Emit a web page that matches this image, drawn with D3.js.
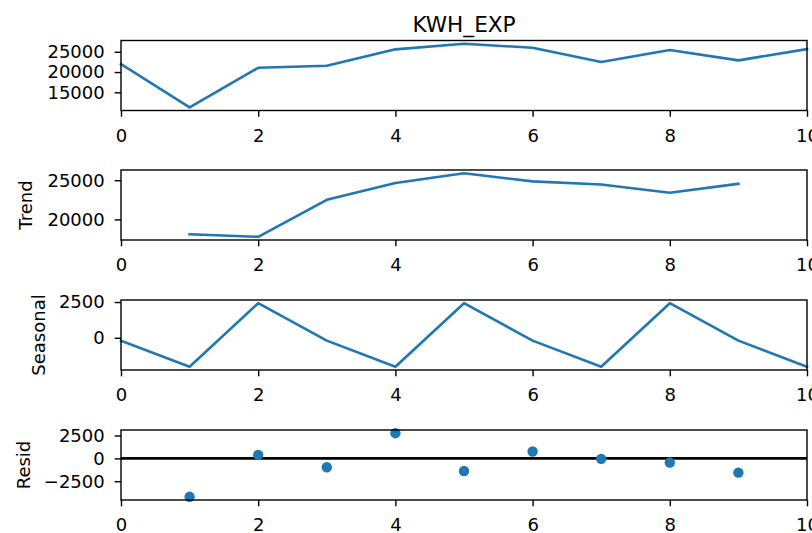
<!DOCTYPE html>
<html>
<head>
<meta charset="utf-8">
<script src="https://cdn.jsdelivr.net/npm/d3@7"></script>
<style>
  body { margin: 0; background: #ffffff; }
  svg { display: block; }
  text { font-family: "DejaVu Sans", sans-serif; }
</style>
</head>
<body>
<svg id="chart" width="812" height="533"></svg>
<script>
// ---- data ----
const xIndex   = [0, 1, 2, 3, 4, 5, 6, 7, 8, 9, 10];
const observed = [21970, 11300, 21060, 21550, 25600, 27000, 25985, 22460, 25420, 22880, 25660];
const trend    = [null, 18100, 17780, 22500, 24650, 25900, 24850, 24450, 23400, 24550, null];
const seasonal = [-200, -2030, 2420, -200, -2030, 2420, -200, -2030, 2420, -200, -2030];
const resid    = [null, -4200, 385, -970, 2750, -1380, 750, -55, -460, -1560, null];

const xTickValues = [0, 2, 4, 6, 8, 10];
const xTickLabels = ["0", "2", "4", "6", "8", "10"];
const obsTicks    = [15000, 20000, 25000];
const obsLabels   = ["15000", "20000", "25000"];
const trendTicks  = [20000, 25000];
const trendLabels = ["20000", "25000"];
const seasTicks   = [0, 2500];
const seasLabels  = ["0", "2500"];
const residTicks  = [-2500, 0, 2500];
const residLabels = ["\u22122500", "0", "2500"];

const chartTitle = "KWH_EXP";
const panelNames = ["", "Trend", "Seasonal", "Resid"];

// ---- layout ----
const svg = d3.select("#chart");
const W = 812, H = 533;
svg.append("rect").attr("width", W).attr("height", H).attr("fill", "#ffffff");

const left = 121, right = 807;
const tops = [40.5, 170, 300, 430];
const panelH = 70;
const ylabelX = [null, 32, 45, 30];
const blue = "#1f77b4";

const x = d3.scaleLinear().domain([0, 10]).range([left, right]);

const panels = [
  { values: observed, ticks: obsTicks, labels: obsLabels, type: "line" },
  { values: trend, ticks: trendTicks, labels: trendLabels, type: "line" },
  { values: seasonal, ticks: seasTicks, labels: seasLabels, type: "line" },
  { values: resid, ticks: residTicks, labels: residLabels, type: "dots" }
];

panels.forEach((p, i) => {
  const top = tops[i], bottom = top + panelH;
  const vals = p.values.filter(v => v != null);
  const mn = d3.min(vals), mx = d3.max(vals);
  const pad = (mx - mn) * 0.05;
  const y = d3.scaleLinear().domain([mn - pad, mx + pad]).range([bottom, top]);
  const g = svg.append("g");

  if (p.type === "line") {
    const line = d3.line()
      .defined(d => d.v != null)
      .x(d => x(d.x))
      .y(d => y(d.v));
    g.append("path")
      .datum(xIndex.map((xx, k) => ({ x: xx, v: p.values[k] })))
      .attr("d", line)
      .attr("fill", "none")
      .attr("stroke", blue)
      .attr("stroke-width", 2.6)
      .attr("stroke-linejoin", "round")
      .attr("stroke-linecap", "square");
  } else {
    g.append("line")
      .attr("x1", x(0)).attr("x2", x(10))
      .attr("y1", y(0)).attr("y2", y(0))
      .attr("stroke", "#000000")
      .attr("stroke-width", 2.7);
    g.selectAll("circle")
      .data(xIndex.map((xx, k) => ({ x: xx, v: p.values[k] })).filter(d => d.v != null))
      .enter().append("circle")
      .attr("cx", d => x(d.x))
      .attr("cy", d => y(d.v))
      .attr("r", 5.2)
      .attr("fill", blue);
  }

  // axes
  const xa = d3.axisBottom(x).tickValues(xTickValues)
    .tickFormat((d, k) => xTickLabels[k]).tickSize(6.3).tickPadding(12);
  const xg = svg.append("g").attr("transform", `translate(0,${bottom})`).call(xa);
  const ya = d3.axisLeft(y).tickValues(p.ticks)
    .tickFormat((d, k) => p.labels[k]).tickSize(6.3).tickPadding(10);
  const yg = svg.append("g").attr("transform", `translate(${left},0)`).call(ya);
  [xg, yg].forEach(a => {
    a.select(".domain").remove();
    a.selectAll(".tick line").attr("stroke", "#000").attr("stroke-width", 1.4);
    a.selectAll(".tick text").attr("fill", "#000")
      .attr("font-size", 18).attr("font-family", "DejaVu Sans, sans-serif");
  });

  // frame
  svg.append("rect")
    .attr("x", left).attr("y", top)
    .attr("width", right - left).attr("height", panelH)
    .attr("fill", "none").attr("stroke", "#000").attr("stroke-width", 1.4);

  if (panelNames[i]) {
    svg.append("text")
      .attr("transform", `translate(${ylabelX[i]},${top + panelH / 2}) rotate(-90)`)
      .attr("text-anchor", "middle")
      .attr("font-size", 18)
      .attr("fill", "#000")
      .text(panelNames[i]);
  }
});

svg.append("text")
  .attr("x", (left + right) / 2)
  .attr("y", 31.5)
  .attr("text-anchor", "middle")
  .attr("font-size", 21.6)
  .attr("fill", "#000")
  .text(chartTitle);
</script>
</body>
</html>
